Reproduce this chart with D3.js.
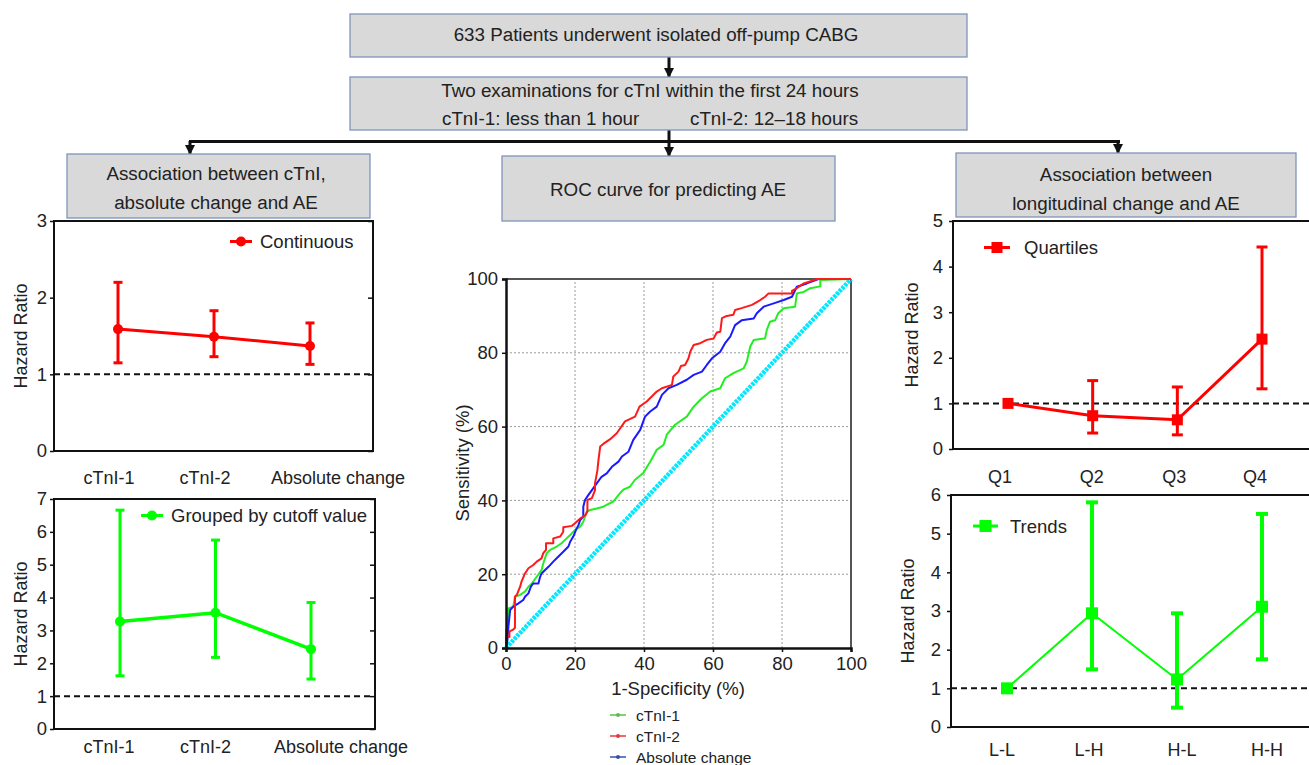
<!DOCTYPE html>
<html>
<head>
<meta charset="utf-8">
<script src="https://cdn.jsdelivr.net/npm/d3@7"></script>
<style>
body { margin: 0; background: #fff; }
svg { display: block; }
text { font-family: "Liberation Sans", Arial, Helvetica, sans-serif; fill: #222; }
</style>
</head>
<body>
<svg id="chart" width="1309" height="765"></svg>
<script>
// ---- data ----
const continuousCats = ["cTnI-1", "cTnI-2", "Absolute change"];
const continuousHR = [1.59, 1.49, 1.37];
const continuousLo = [1.15, 1.23, 1.13];
const continuousHi = [2.20, 1.83, 1.67];

const groupedCats = ["cTnI-1", "cTnI-2", "Absolute change"];
const groupedHR = [3.27, 3.54, 2.43];
const groupedLo = [1.62, 2.18, 1.52];
const groupedHi = [6.66, 5.75, 3.85];

const quartileCats = ["Q1", "Q2", "Q3", "Q4"];
const quartileHR = [1.0, 0.73, 0.64, 2.41];
const quartileLo = [null, 0.35, 0.31, 1.32];
const quartileHi = [null, 1.50, 1.36, 4.43];

const trendCats = ["L-L", "L-H", "H-L", "H-H"];
const trendHR = [1.0, 2.94, 1.23, 3.11];
const trendLo = [null, 1.49, 0.50, 1.75];
const trendHi = [null, 5.81, 2.94, 5.51];

const rocTicks = [0, 20, 40, 60, 80, 100];
const rocDiagonal = [[0, 0], [100, 100]];

// [1-specificity, sensitivity]
const rocCTnI1 = [[0,0],[0,4.9],[0.4,5.5],[0.7,10.7],[2.1,11.2],[2.6,13.9],[4.1,14.4],[5.5,15.3],[6.5,16.6],[7.5,17.5],[8.9,19.3],[10.3,21.1],[10.8,22.9],[11.8,25.7],[12.8,26.6],[14.7,27.5],[16.1,28.4],[17.1,29.3],[18.6,30.6],[20,32],[21.5,32.9],[22.4,34.2],[23.4,37],[24.4,37.4],[26.3,37.8],[28.2,38.3],[31.1,39.7],[33,41.9],[34,42.9],[35.9,43.7],[37.4,45.6],[39.8,47.4],[41.8,50.5],[43.7,53.7],[45.7,55.1],[46.6,57.8],[49,60.5],[52.4,62.7],[54.4,65.4],[56.8,67.7],[59.2,69.5],[62.1,70.4],[63.5,73.1],[65.9,74.5],[68.9,75.8],[69.8,77.6],[70.8,81.7],[71.8,83.5],[75.1,83.9],[75.6,86.2],[76.5,88.4],[78,88.8],[78.9,90.7],[80.5,92.1],[83.8,92.5],[84.3,96.1],[86.3,96.5],[88.2,97.5],[91.1,98],[91.1,99.7],[100,100]];
const rocCTnI2 = [[0,0],[0,3],[1,3],[1,4.5],[2.1,5],[2.6,5.5],[2.6,13.9],[3.2,14.5],[4.1,16.6],[4.5,18],[5.5,20.2],[6.5,21.6],[7.9,22.5],[8.9,23.4],[10.3,24.3],[10.8,25.7],[11.6,26.6],[11.6,28.4],[13.7,28.4],[13.7,29.7],[15.7,30.2],[16.6,31.5],[16.6,32.7],[19.1,33.1],[20,33.8],[21.5,35.1],[23,36],[23.6,37],[23.6,40.1],[24.9,40.6],[25.8,42.8],[25.8,44.6],[26.5,48.2],[26.8,50.9],[27.3,54.6],[28.2,55.3],[30.2,56.6],[32.1,58.2],[34.5,61.4],[37.4,62.7],[38.7,65.4],[40.8,66.8],[43.7,69.5],[45.2,70.4],[48.1,71.3],[48.5,73.6],[50,74.9],[50.7,76.4],[51.9,76.7],[52.9,78.5],[53.4,80.3],[54.4,82.1],[56.3,82.6],[58.2,83.5],[60.2,83.9],[61.1,85.5],[62.1,85.7],[62.6,89.4],[64,90],[65.9,90.3],[66.4,91.6],[68.3,92.1],[71.3,93],[73.7,94.3],[75.1,95.2],[76.1,96.1],[82.9,96.1],[82.9,96.8],[84.3,97.5],[86.3,98.8],[89.2,99.7],[90.1,100],[100,100]];
const rocAbsolute = [[0,0],[0.4,2],[0.7,5.8],[1.2,10.3],[2.1,11.2],[3.6,12.1],[5,13],[5.5,13.9],[6.5,14.8],[7.2,16.6],[7.9,17.5],[9.4,17.5],[9.9,19.3],[10.3,20.2],[12.3,22],[13.7,23.4],[15.2,24.8],[16.6,26.1],[18.1,27.5],[18.6,28.8],[19.5,30.2],[20.3,32],[21,33.3],[21.5,34.7],[22.4,35.6],[22.4,38.3],[22.9,40.1],[23.9,41.5],[24.9,42.8],[26.3,44.6],[27.7,46.4],[29.2,47.3],[30.7,49.1],[32.6,50.5],[33.6,51.9],[35.5,53.2],[36.9,56.4],[38.9,59.1],[40.3,62.7],[41.8,64.1],[43.7,65.4],[45.2,68.6],[47.1,70.4],[49.5,71.3],[52.4,72.7],[54.4,74],[56.8,74.9],[58.2,76.7],[59.7,78.5],[62.1,80.3],[63.5,82.6],[65,84.4],[66.4,87.5],[68.3,88.8],[71.8,89.3],[72.7,90.7],[74.7,92.5],[77.6,93.4],[80.5,94.3],[82.9,95.2],[84.3,97.9],[87.2,98.8],[90.6,100],[100,100]];

const rocLegend = ["cTnI-1", "cTnI-2", "Absolute change"];

const svg = d3.select("#chart");
svg.append("rect").attr("width", 1309).attr("height", 765).attr("fill", "#fff");

// ---- flow chart ----
const defs = svg.append("defs");
defs.append("marker")
	.attr("id", "arrow")
	.attr("viewBox", "0 0 10 10")
	.attr("refX", 9).attr("refY", 5)
	.attr("markerWidth", 3.5).attr("markerHeight", 3.5)
	.attr("orient", "auto")
	.append("path").attr("d", "M0,0L10,5L0,10z").attr("fill", "#111");

const flow = svg.append("g");
const boxFill = "#d9d9d9", boxStroke = "#7f94bb";

const drawBox = (x, y, w, h) => {
	flow.append("rect")
		.attr("x", x).attr("y", y).attr("width", w).attr("height", h)
		.attr("fill", boxFill).attr("stroke", boxStroke).attr("stroke-width", 1.3);
};
const boxText = (x, y, txt, anchor = "middle") => {
	flow.append("text")
		.attr("x", x).attr("y", y)
		.attr("text-anchor", anchor)
		.attr("dominant-baseline", "central")
		.style("font-size", "18.8px")
		.text(txt);
};
const arrow = (x, y1, y2) => {
	flow.append("line")
		.attr("x1", x).attr("x2", x).attr("y1", y1).attr("y2", y2)
		.attr("stroke", "#111").attr("stroke-width", 3)
		.attr("marker-end", "url(#arrow)");
};

arrow(669, 57, 77);
arrow(669, 130, 156);
flow.append("line")
	.attr("x1", 189).attr("x2", 1120).attr("y1", 141.5).attr("y2", 141.5)
	.attr("stroke", "#111").attr("stroke-width", 3);
arrow(190, 141, 154);
arrow(1118, 141, 153);

drawBox(350, 14, 617, 43);
boxText(656, 34, "633 Patients underwent isolated off-pump CABG");
drawBox(350, 77, 617, 53);
boxText(650, 90, "Two examinations for cTnI within the first 24 hours");
boxText(442, 118, "cTnI-1: less than 1 hour", "start");
boxText(690, 118, "cTnI-2: 12\u201318 hours", "start");
drawBox(67, 154, 303, 64);
boxText(216, 173, "Association between cTnI,");
boxText(216, 202, "absolute change and AE");
drawBox(502, 156, 333, 65);
boxText(668, 189, "ROC curve for predicting AE");
drawBox(956, 153, 340, 64);
boxText(1126, 174, "Association between");
boxText(1126, 203, "longitudinal change and AE");

// ---- hazard ratio panels ----
const hrPanel = (p) => {
	const y = d3.scaleLinear().domain([0, p.yMax]).range([p.bottom, p.top]);
	const x = d3.scalePoint().domain(p.cats).range(p.pointRange);
	const g = svg.append("g");
	const rows = p.cats.map((c, i) => ({ cat: c, hr: p.hr[i], lo: p.lo[i], hi: p.hi[i] }));

	g.append("rect")
		.attr("x", p.left).attr("y", p.top)
		.attr("width", p.right - p.left).attr("height", p.bottom - p.top)
		.attr("fill", "none").attr("stroke", "#111").attr("stroke-width", 2);

	const yAxis = g.append("g")
		.attr("transform", `translate(${p.left},0)`)
		.call(d3.axisLeft(y).ticks(p.yMax).tickSize(4).tickPadding(p.tickPad).tickFormat(d3.format("d")));
	yAxis.select(".domain").remove();
	yAxis.selectAll("line").attr("stroke", "#111").attr("stroke-width", 1.5);
	yAxis.selectAll("text").style("font-size", "18.5px").style("fill", "#222");

	if (p.rightTicks) {
		const rAxis = g.append("g")
			.attr("transform", `translate(${p.right},0)`)
			.call(d3.axisLeft(y).ticks(p.yMax).tickSize(5).tickFormat(""));
		rAxis.select(".domain").remove();
		rAxis.selectAll("line").attr("stroke", "#111").attr("stroke-width", 1.5);
	}

	g.append("line")
		.attr("x1", p.left).attr("x2", p.right)
		.attr("y1", y(1)).attr("y2", y(1))
		.attr("stroke", "#111").attr("stroke-width", 2)
		.attr("stroke-dasharray", "6,4");

	const bars = rows.filter((d) => d.lo !== null);
	g.selectAll(".bar").data(bars).join("line")
		.attr("x1", (d) => x(d.cat)).attr("x2", (d) => x(d.cat))
		.attr("y1", (d) => y(d.lo)).attr("y2", (d) => y(d.hi))
		.attr("stroke", p.color).attr("stroke-width", p.barW);
	["lo", "hi"].forEach((k) => {
		g.selectAll(".cap-" + k).data(bars).join("line")
			.attr("x1", (d) => x(d.cat) - p.capW / 2).attr("x2", (d) => x(d.cat) + p.capW / 2)
			.attr("y1", (d) => y(d[k])).attr("y2", (d) => y(d[k]))
			.attr("stroke", p.color).attr("stroke-width", p.barW);
	});

	g.append("path")
		.datum(rows)
		.attr("fill", "none").attr("stroke", p.color).attr("stroke-width", p.lineW)
		.attr("d", d3.line().x((d) => x(d.cat)).y((d) => y(d.hr)));

	const marker = (sel, cx, cy) => {
		if (p.marker === "circle") {
			sel.append("circle").attr("cx", cx).attr("cy", cy).attr("r", p.size / 2).attr("fill", p.color);
		} else {
			sel.append("rect").attr("x", cx - p.size / 2).attr("y", cy - p.size / 2)
				.attr("width", p.size).attr("height", p.size).attr("fill", p.color);
		}
	};
	rows.forEach((d) => marker(g, x(d.cat), y(d.hr)));

	g.selectAll(".xlab").data(rows).join("text")
		.attr("x", (d, i) => x(d.cat) + p.labelDx[i])
		.attr("y", p.labelY)
		.attr("text-anchor", "middle")
		.attr("dominant-baseline", "central")
		.style("font-size", "18px")
		.text((d) => d.cat);

	g.append("text")
		.attr("transform", `translate(${p.yLabelX},${(p.top + p.bottom) / 2}) rotate(-90)`)
		.attr("text-anchor", "middle")
		.attr("dominant-baseline", "central")
		.style("font-size", "18px")
		.text("Hazard Ratio");

	const lg = p.legend;
	g.append("line")
		.attr("x1", lg.x).attr("x2", lg.x + lg.w)
		.attr("y1", lg.y).attr("y2", lg.y)
		.attr("stroke", p.color).attr("stroke-width", 3);
	marker(g, lg.x + lg.w / 2, lg.y);
	g.append("text")
		.attr("x", lg.tx).attr("y", lg.y)
		.attr("dominant-baseline", "central")
		.style("font-size", "18.5px")
		.text(lg.text);
};

hrPanel({
	left: 54, right: 373, top: 221, bottom: 451, yMax: 3,
	cats: continuousCats, hr: continuousHR, lo: continuousLo, hi: continuousHi,
	pointRange: [118, 310], labelDx: [-9, -9, 28], labelY: 478,
	color: "#ff0000", marker: "circle", size: 10, lineW: 3, barW: 3, capW: 9,
	tickPad: 3, rightTicks: true, yLabelX: 21,
	legend: { x: 230, w: 22, y: 241.5, tx: 260, text: "Continuous" },
});

hrPanel({
	left: 54, right: 375, top: 499, bottom: 729, yMax: 7,
	cats: groupedCats, hr: groupedHR, lo: groupedLo, hi: groupedHi,
	pointRange: [120, 311], labelDx: [-11, -10, 30], labelY: 747,
	color: "#00ff00", marker: "circle", size: 10, lineW: 3.5, barW: 3, capW: 9,
	tickPad: 3, rightTicks: true, yLabelX: 21,
	legend: { x: 141, w: 22, y: 515.5, tx: 171, text: "Grouped by cutoff value" },
});

hrPanel({
	left: 953, right: 1315, top: 221, bottom: 449, yMax: 5,
	cats: quartileCats, hr: quartileHR, lo: quartileLo, hi: quartileHi,
	pointRange: [1008, 1262], labelDx: [-8, -1, -3, -7], labelY: 477,
	color: "#ff0000", marker: "square", size: 11, lineW: 3, barW: 3, capW: 11,
	tickPad: 6, rightTicks: false, yLabelX: 912,
	legend: { x: 984, w: 26, y: 247.5, tx: 1024, text: "Quartiles" },
});

hrPanel({
	left: 951, right: 1315, top: 495, bottom: 727, yMax: 6,
	cats: trendCats, hr: trendHR, lo: trendLo, hi: trendHi,
	pointRange: [1007, 1262], labelDx: [-5, -3, 5, 5], labelY: 750,
	color: "#00ff00", marker: "square", size: 12, lineW: 2, barW: 4, capW: 12,
	tickPad: 6, rightTicks: false, yLabelX: 908,
	legend: { x: 973, w: 25, y: 526, tx: 1010, text: "Trends" },
});

// ---- ROC panel ----
const rx = d3.scaleLinear().domain([0, 100]).range([506, 851]);
const ry = d3.scaleLinear().domain([0, 100]).range([648, 279]);
const roc = svg.append("g");

roc.append("g")
	.selectAll("line.gx")
	.data(rocTicks.slice(1, -1))
	.join("line")
	.attr("x1", (d) => rx(d)).attr("x2", (d) => rx(d))
	.attr("y1", ry(0)).attr("y2", ry(100))
	.attr("stroke", "#9a9a9a").attr("stroke-width", 1).attr("stroke-dasharray", "2,2");
roc.append("g")
	.selectAll("line.gy")
	.data(rocTicks.slice(1, -1))
	.join("line")
	.attr("x1", rx(0)).attr("x2", rx(100))
	.attr("y1", (d) => ry(d)).attr("y2", (d) => ry(d))
	.attr("stroke", "#9a9a9a").attr("stroke-width", 1).attr("stroke-dasharray", "2,2");

roc.append("line")
	.attr("x1", rx(0)).attr("x2", rx(100)).attr("y1", ry(100)).attr("y2", ry(100))
	.attr("stroke", "#555").attr("stroke-width", 2);
roc.append("line")
	.attr("x1", rx(100)).attr("x2", rx(100)).attr("y1", ry(100)).attr("y2", ry(0))
	.attr("stroke", "#555").attr("stroke-width", 2);

const rocLine = d3.line().x((d) => rx(d[0])).y((d) => ry(d[1]));

roc.append("path").datum(rocDiagonal)
	.attr("fill", "none").attr("stroke", "#00e8ff").attr("stroke-width", 4.5)
	.attr("stroke-dasharray", "3,1")
	.attr("d", rocLine);

[[rocCTnI1, "#22ee22"], [rocAbsolute, "#1a1aff"], [rocCTnI2, "#ff1a1a"]].forEach(([pts, c]) => {
	roc.append("path").datum(pts)
		.attr("fill", "none").attr("stroke", c).attr("stroke-width", 2)
		.attr("stroke-linejoin", "round")
		.attr("d", rocLine);
});

const rxAxis = roc.append("g")
	.attr("transform", `translate(0,${ry(0)})`)
	.call(d3.axisBottom(rx).tickValues(rocTicks).tickSize(4).tickPadding(5));
const ryAxis = roc.append("g")
	.attr("transform", `translate(${rx(0)},0)`)
	.call(d3.axisLeft(ry).tickValues(rocTicks).tickSize(4).tickPadding(4));
[rxAxis, ryAxis].forEach((a) => {
	a.select(".domain").attr("stroke", "#111").attr("stroke-width", 2.5);
	a.selectAll("line").attr("stroke", "#111").attr("stroke-width", 1.5);
	a.selectAll("text").style("font-size", "18.5px").style("fill", "#222");
});

roc.append("text")
	.attr("x", 678).attr("y", 688)
	.attr("text-anchor", "middle").attr("dominant-baseline", "central")
	.style("font-size", "18.5px")
	.text("1-Specificity (%)");
roc.append("text")
	.attr("transform", `translate(462,463) rotate(-90)`)
	.attr("text-anchor", "middle").attr("dominant-baseline", "central")
	.style("font-size", "18.5px")
	.text("Sensitivity (%)");

const legendColors = ["#5cbf4a", "#e8383d", "#3450ad"];
const rocLeg = roc.append("g")
	.selectAll("g")
	.data(rocLegend)
	.join("g")
	.attr("transform", (d, i) => `translate(610,${715 + i * 21})`);
rocLeg.append("line")
	.attr("x1", 0).attr("x2", 16).attr("y1", 0).attr("y2", 0)
	.attr("stroke", (d, i) => legendColors[i]).attr("stroke-width", 1.5);
rocLeg.append("circle")
	.attr("cx", 8).attr("cy", 0).attr("r", 2)
	.attr("fill", (d, i) => legendColors[i]);
rocLeg.append("text")
	.attr("x", 26).attr("y", 0)
	.attr("dominant-baseline", "central")
	.style("font-size", "15.5px")
	.text((d) => d);
</script>
</body>
</html>
